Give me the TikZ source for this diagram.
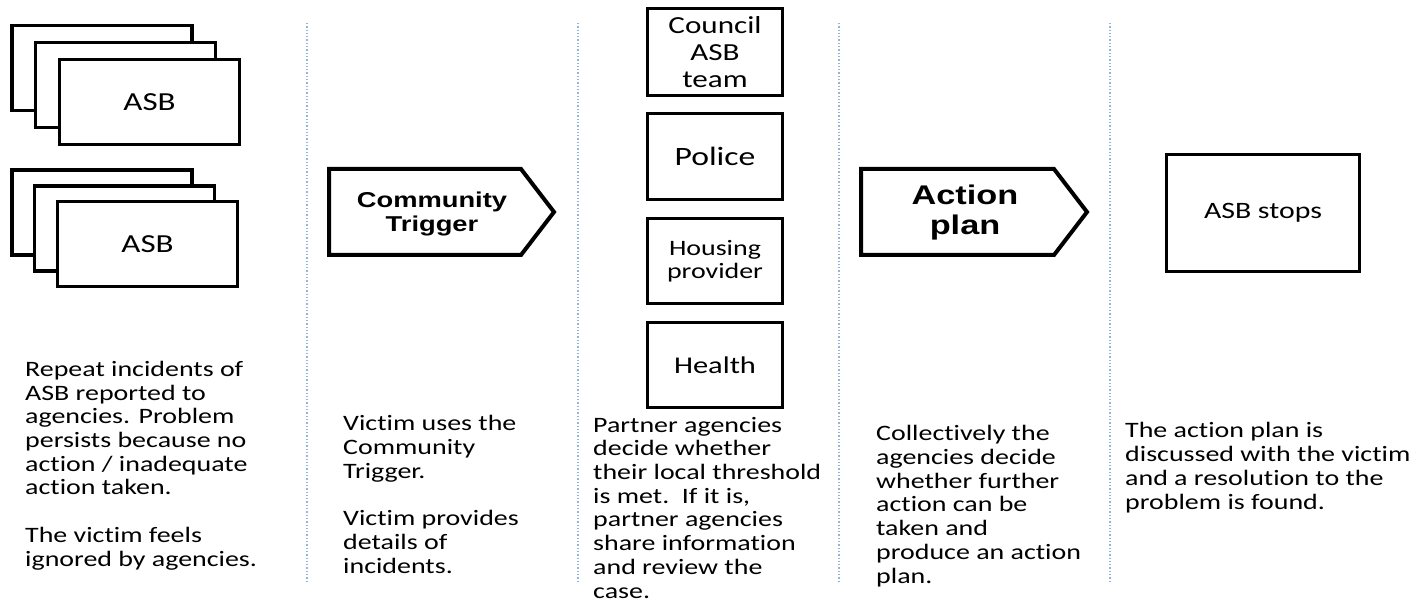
\documentclass[tikz,border=0pt]{standalone}
\usepackage{fontspec}
\setmainfont{Carlito}[FakeStretch=1.27, Ligatures=NoCommon]
\newfontfamily\arrowfont{Liberation Sans}[FakeStretch=1.27]
\definecolor{divblue}{RGB}{150,180,218}
\begin{document}
\begin{tikzpicture}[x=1pt,y=-1pt,
  box/.style={draw=black, line width=3.5pt, fill=white, inner sep=0pt},
  lbl/.style={font=\fontsize{24}{27}\selectfont, align=center, inner sep=0pt},
  desc/.style={font=\fontsize{22}{23.7}\selectfont, align=left, anchor=base west, inner sep=0pt},
  divider/.style={draw=divblue, line width=1.3pt, dotted},
  sig/.style={draw=black, line width=4pt, fill=white, line join=miter},
  sigtext/.style={align=center, inner sep=0pt}
]
\useasboundingbox (0,0) rectangle (1427,601);

% dividers
\foreach \x/\n in {307/1,578/2,839/3,1110/4}{
  \coordinate (dt\n) at (\x,23);
  \coordinate (db\n) at (\x,583);
  \draw[divider] (dt\n) -- (db\n);
}

% ASB stacks
\node[box, minimum width=180pt, minimum height=85pt] (s1a) at (102,68) {};
\node[box, minimum width=180pt, minimum height=85pt] (s1b) at (125.5,85) {};
\node[box, minimum width=180pt, minimum height=85pt, lbl, font=\fontsize{26}{28}\selectfont] (s1c) at (149.5,102) {ASB};
\node[box, minimum width=180pt, minimum height=85pt] (s2a) at (102,212.5) {};
\node[box, minimum width=180pt, minimum height=85pt] (s2b) at (124.5,228.5) {};
\node[box, minimum width=180pt, minimum height=85pt, lbl, font=\fontsize{26}{28}\selectfont] (s2c) at (147.5,244) {ASB};

% Community Trigger arrow
\coordinate (ct1) at (329,169);
\coordinate (ct2) at (521,169);
\coordinate (ct3) at (554,212);
\coordinate (ct4) at (521,255);
\coordinate (ct5) at (329,255);
\draw[sig] (ct1) -- (ct2) -- (ct3) -- (ct4) -- (ct5) -- cycle;
\node[sigtext, font=\arrowfont\bfseries\fontsize{21.5}{24}\selectfont] (ctt) at (432,213.5) {Community\\Trigger};

% agencies
\node[box, minimum width=135pt, minimum height=87pt, lbl, font=\fontsize{24.5}{27}\selectfont] (council) at (715,52) {Council\\ASB\\team};
\node[box, minimum width=135pt, minimum height=86pt, lbl, font=\fontsize{26.5}{28}\selectfont] (police) at (715,156.5) {Police};
\node[box, minimum width=135pt, minimum height=85pt, lbl, font=\fontsize{22}{22.5}\selectfont] (housing) at (715,261) {Housing\\provider};
\node[box, minimum width=135pt, minimum height=85pt, lbl, font=\fontsize{24}{27}\selectfont] (health) at (715,365) {Health};

% Action plan arrow
\coordinate (ap1) at (861,169);
\coordinate (ap2) at (1054,169);
\coordinate (ap3) at (1087,212);
\coordinate (ap4) at (1054,255);
\coordinate (ap5) at (861,255);
\draw[sig] (ap1) -- (ap2) -- (ap3) -- (ap4) -- (ap5) -- cycle;
\node[sigtext, font=\arrowfont\bfseries\fontsize{27}{30}\selectfont] (apt) at (965,213) {Action\\plan};

% ASB stops
\node[box, minimum width=193pt, minimum height=117pt, lbl, font=\fontsize{23.5}{26}\selectfont] (stops) at (1263,213) {ASB stops};

% descriptions (anchored at baseline of last line)
\node[desc] (t1) at (25,566) {Repeat incidents of\\ASB reported to\\agencies. Problem\\persists because no\\action / inadequate\\action taken.\\[23.7pt]The victim feels\\ignored by agencies.};
\node[desc] (t2) at (343,573) {Victim uses the\\Community\\Trigger.\\[23.7pt]Victim provides\\details of\\incidents.};
\node[desc] (t3) at (593,598) {Partner agencies\\decide whether\\their local threshold\\is met.\ \ If it is,\\partner agencies\\share information\\and review the\\case.};
\node[desc] (t4) at (876,583) {Collectively the\\agencies decide\\whether further\\action can be\\taken and\\produce an action\\plan.};
\node[desc] (t5) at (1125,509) {The action plan is\\discussed with the victim\\and a resolution to the\\problem is found.};
\end{tikzpicture}
\end{document}
